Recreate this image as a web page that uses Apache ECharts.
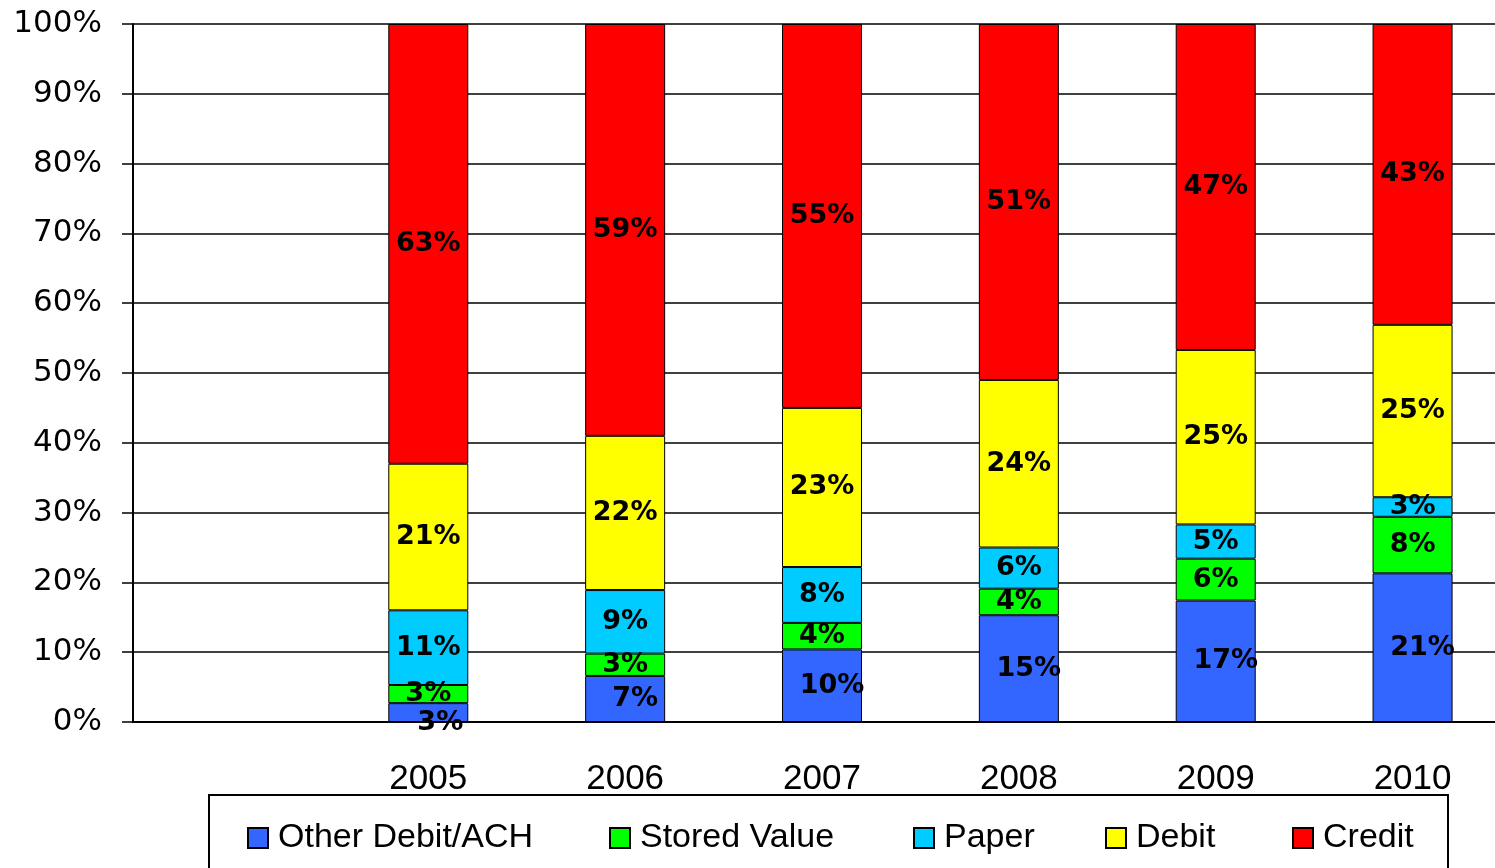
<!DOCTYPE html>
<html>
<head>
<meta charset="utf-8">
<script src="https://cdn.jsdelivr.net/npm/echarts@6/dist/echarts.min.js"></script>
<style>
  html, body { margin: 0; padding: 0; background: #fff; overflow: hidden; }
  /* plot area runs past the right edge of the picture, so the canvas is a bit wider than the window */
  #chart { width: 1511px; height: 868px; }
</style>
</head>
<body>
<div id="chart"></div>
<script>
// share of payments by type, percent of total per year
const years = ['2005', '2006', '2007', '2008', '2009', '2010']
const otherDebit  = [2.7, 6.6, 10.4, 15.3, 17.4, 21.3]
const storedValue = [2.6, 3.2, 3.8, 3.8, 6.0, 8.1]
const paper       = [10.7, 9.1, 8.0, 5.9, 4.9, 2.8]
const debit       = [21.0, 22.1, 22.8, 24.0, 25.0, 24.7]
const credit      = [63.0, 59.0, 55.0, 51.0, 46.7, 43.1]
const yTicks = [0, 10, 20, 30, 40, 50, 60, 70, 80, 90, 100]

const names  = ['Other Debit/ACH', 'Stored Value', 'Paper', 'Debit', 'Credit']
const colors = ['#3366ff', '#00ff00', '#00ccff', '#ffff00', '#ff0000']
const values = [otherDebit, storedValue, paper, debit, credit]

// first slot on the axis is left empty, like the original
const categories = [''].concat(years)

const chart = echarts.init(document.getElementById('chart'))

const series = names.map((name, k) => {
    let data = ['-'].concat(values[k])
    if (k === 0) {
        // labels of the bottom series sit a bit right, the first one drops below the axis
        data = data.map((v, i) => i === 1 ? { value: v, label: { offset: [12, 10] } } : v)
    }
    return {
        name: name,
        type: 'bar',
        stack: 'total',
        barWidth: 80,
        itemStyle: { color: colors[k], borderColor: '#000', borderWidth: 1 },
        label: {
            show: true,
            position: 'inside',
            offset: k === 0 ? [10, 0] : [0, 0],
            color: '#000',
            fontFamily: 'DejaVu Sans',
            fontWeight: 'bold',
            fontSize: 27,
            formatter: p => Math.round(p.value) + '%'
        },
        emphasis: { disabled: true },
        data: data
    }
})

// one legend per entry so each can sit where the original has it
const legendLeft = [247, 609, 913, 1105, 1292]
const legends = names.map((name, k) => ({
    data: [name],
    left: legendLeft[k],
    top: 819,
    padding: 0,
    icon: 'rect',
    itemWidth: 20,
    itemHeight: 20,
    selectedMode: false,
    textStyle: {
        color: '#000',
        fontFamily: 'Liberation Sans',
        fontSize: 34,
        lineHeight: 38,
        padding: [0, 0, 0, 5]
    }
}))

const option = {
    animation: false,
    grid: { left: 133, top: 24, width: 1378, height: 698 },
    legend: legends,
    graphic: [{
        type: 'rect',
        shape: { x: 209, y: 795, width: 1239, height: 110 },
        style: { fill: 'none', stroke: '#000', lineWidth: 2 },
        silent: true
    }],
    xAxis: {
        type: 'category',
        data: categories,
        axisLine: { lineStyle: { color: '#000', width: 2 } },
        axisTick: { show: false },
        axisLabel: {
            color: '#000',
            fontFamily: 'Liberation Sans',
            fontSize: 35,
            margin: 40,
            interval: 0
        }
    },
    yAxis: {
        type: 'value',
        min: yTicks[0],
        max: yTicks[yTicks.length - 1],
        interval: yTicks[1] - yTicks[0],
        axisLine: { show: true, lineStyle: { color: '#000', width: 2 } },
        axisTick: { show: true, length: 11, lineStyle: { color: '#000', width: 1.5 } },
        splitLine: { lineStyle: { color: '#000', width: 1.5 } },
        axisLabel: {
            color: '#000',
            fontFamily: 'DejaVu Sans',
            fontSize: 31,
            margin: 31,
            formatter: '{value}%'
        }
    },
    series: series
}

chart.setOption(option)
</script>
</body>
</html>
